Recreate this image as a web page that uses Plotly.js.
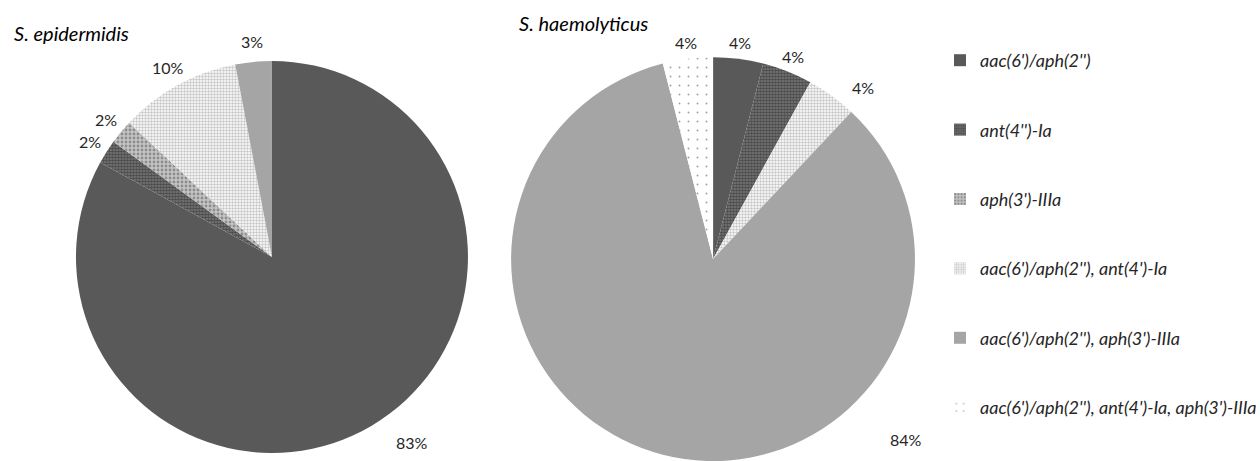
<!DOCTYPE html>
<html>
<head>
<meta charset="utf-8">
<script src="https://cdn.plot.ly/plotly-3.0.1.min.js"></script>
<style>html,body{margin:0;padding:0;background:#fff;}#chart{width:1260px;height:461px;}</style>
</head>
<body>
<div id="chart"></div>
<script>
// Categories (genes)
const categories = [
  "aac(6')/aph(2'')",
  "ant(4'')-Ia",
  "aph(3')-IIIa",
  "aac(6')/aph(2''), ant(4')-Ia",
  "aac(6')/aph(2''), aph(3')-IIIa",
  "aac(6')/aph(2''), ant(4')-Ia, aph(3')-IIIa"
];
// Species titles
const speciesTitles = ["S. epidermidis", "S. haemolyticus"];
// Percent values per species
const epidermidisValues = [83, 2, 2, 10, 3, 0];
const haemolyticusValues = [4, 4, 0, 4, 84, 4];

// ---- styles ----
const W = 1260, H = 461;
const font = "Lato, 'Open Sans', sans-serif";
const colors = ["#595959", "#3a3a3a", "#9a9a9a", "#ffffff", "#a5a5a5", "#ffffff"];
const patterns = [
  {shape: ""},
  {shape: ".", fgcolor: "#1e1e1e", bgcolor: "#7a7a7a", size: 3, solidity: 0.65},
  {shape: ".", fgcolor: "#555555", bgcolor: "#c4c4c4", size: 4, solidity: 0.4},
  {shape: ".", fgcolor: "#8c8c8c", bgcolor: "#ffffff", size: 3, solidity: 0.5},
  {shape: ""},
  {shape: ".", fgcolor: "#404040", bgcolor: "#ffffff", size: 9, solidity: 0.035}
];
const domains = [
  {x: [0.0603, 0.3714], y: [0.0174, 0.8677]},
  {x: [0.4048, 0.7270], y: [0.0, 0.876]}
];
// label placement: radial offset (px) beyond the rim, plus per-slice tweaks
const labelOffsets = [20, 16];
const labelTweaks = [
  {0: {angle: 143, offset: 36}},
  {3: {angle: 41, offset: 26}, 4: {angle: 133, offset: 62}}
];

function pieTrace(values, domain) {
  return {
    type: "pie",
    labels: categories,
    values: values,
    textinfo: "none",
    sort: false,
    direction: "clockwise",
    rotation: 0,
    showlegend: false,
    domain: domain,
    marker: {
      colors: colors,
      line: {width: 0},
      pattern: {
        shape: patterns.map(p => p.shape),
        fgcolor: patterns.map(p => p.fgcolor || "#000"),
        bgcolor: patterns.map(p => p.bgcolor || "#fff"),
        size: patterns.map(p => p.size || 8),
        solidity: patterns.map(p => p.solidity || 0.3),
        fillmode: "overlay"
      }
    },
    hoverinfo: "label+percent"
  };
}

// percent labels placed outside each slice, from the slice's mid angle
function labelAnnotations(values, domain, offset, tweaks) {
  const x0 = domain.x[0] * W, x1 = domain.x[1] * W;
  const y0 = (1 - domain.y[1]) * H, y1 = (1 - domain.y[0]) * H;
  const cx = (x0 + x1) / 2, cy = (y0 + y1) / 2;
  const r = Math.min(x1 - x0, y1 - y0) / 2;
  const total = values.reduce((a, b) => a + b, 0);
  const out = [];
  let cum = 0;
  values.forEach((v, i) => {
    if (v > 0) {
      const t = tweaks[i] || {};
      const mid = (cum + v / 2) / total * 360;
      const ang = (t.angle !== undefined ? t.angle : mid) * Math.PI / 180;
      const d = r + (t.offset !== undefined ? t.offset : offset);
      const px = cx + d * Math.sin(ang), py = cy - d * Math.cos(ang);
      out.push({
        text: v + "%", xref: "paper", yref: "paper",
        x: px / W, y: 1 - py / H, xanchor: "center", yanchor: "middle",
        showarrow: false, font: {family: font, size: 16, color: "#262626"}
      });
    }
    cum += v;
  });
  return out;
}

const data = [
  pieTrace(epidermidisValues, domains[0]),
  pieTrace(haemolyticusValues, domains[1])
];

// Legend-only entries (one per category) so the legend spacing can match
categories.forEach((c, i) => {
  const p = patterns[i];
  data.push({
    type: "bar",
    x: [null], y: [null],
    name: c,
    legendgroup: "g" + i,
    showlegend: true,
    hoverinfo: "skip",
    marker: {
      color: colors[i],
      line: {width: 0},
      pattern: p.shape ? {shape: p.shape, fgcolor: p.fgcolor, bgcolor: p.bgcolor, size: p.size, solidity: p.solidity, fillmode: "overlay"} : {shape: ""}
    }
  });
});

const annotations = [
  {text: speciesTitles[0], xref: "paper", yref: "paper", x: 12 / W, y: 1 - 33 / H, xanchor: "left", yanchor: "middle", showarrow: false, font: {family: font, size: 20, style: "italic", color: "#000"}},
  {text: speciesTitles[1], xref: "paper", yref: "paper", x: 517 / W, y: 1 - 23 / H, xanchor: "left", yanchor: "middle", showarrow: false, font: {family: font, size: 20, style: "italic", color: "#000"}}
].concat(
  labelAnnotations(epidermidisValues, domains[0], labelOffsets[0], labelTweaks[0]),
  labelAnnotations(haemolyticusValues, domains[1], labelOffsets[1], labelTweaks[1])
);

const layout = {
  width: W, height: H,
  margin: {l: 0, r: 0, t: 0, b: 0, autoexpand: false},
  paper_bgcolor: "#fff", plot_bgcolor: "#fff",
  font: {family: font, color: "#262626"},
  xaxis: {visible: false, domain: [0.999, 1]},
  yaxis: {visible: false, domain: [0.999, 1]},
  legend: {
    x: 940 / W, y: 1 - 42 / H, xanchor: "left", yanchor: "top",
    traceorder: "grouped", tracegroupgap: 43,
    font: {family: font, size: 18, color: "#262626", style: "italic"},
    bgcolor: "rgba(0,0,0,0)",
    itemclick: false, itemdoubleclick: false
  },
  annotations: annotations
};

Plotly.newPlot("chart", data, layout, {displayModeBar: false});
</script>
</body>
</html>
